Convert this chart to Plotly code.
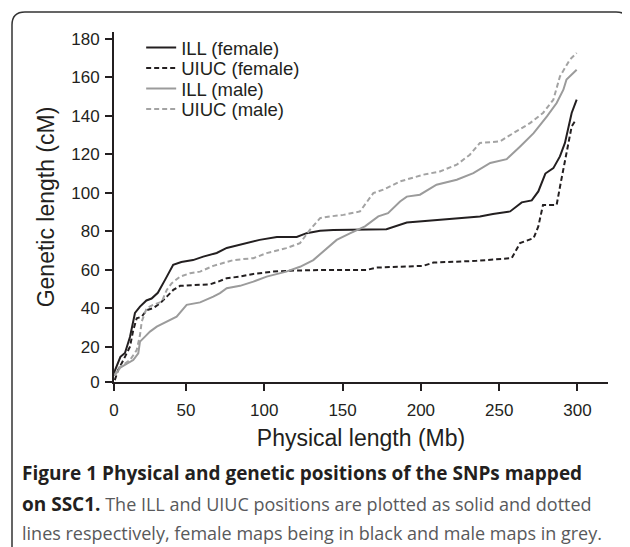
import plotly.graph_objects as go

# values (Mb vs cM)
ill_f_x = [4.2, 4.7, 8.1, 11, 14.2, 17.4, 20.6, 24.7, 28, 32, 36.6, 39.8, 41.8, 47, 54.5, 61, 69.6, 76,
           84.5, 97, 108, 120.7, 127, 135.6, 144, 178, 191, 208, 222.9, 237.7, 246, 257, 264.4, 270.8,
           275, 278, 279.5, 284.6, 288.8, 292, 294.1, 296.3, 299.5]
ill_f_y = [5, 7.8, 14.7, 16.7, 25, 37.5, 40.8, 44, 45, 48, 54.7, 60, 62.5, 64, 65, 66.8, 68.7, 71.3,
           73, 75.5, 77, 77, 79, 80.2, 80.7, 81, 84.5, 85.6, 86.8, 87.7, 89, 90.3, 95, 96,
           100.7, 106.8, 110, 112.8, 118.9, 125.9, 134.5, 141.5, 148.4]

uiuc_f_x = [4.5, 6.6, 10, 14.2, 16.3, 18.5, 21.7, 24.9, 29, 33.4, 37.7, 41.9, 46.2, 56.8, 65.3, 70.6,
            76, 84.5, 93, 105.7, 116.4, 142, 165.4, 171.8, 201.5, 208, 235.6, 258, 263.3, 272, 275,
            278, 286.7, 289.5, 291.5, 294, 296.3, 299]
uiuc_f_y = [2.6, 7.8, 13, 20, 28.6, 34.7, 35.6, 39, 40, 42.5, 46, 49.5, 51.6, 52, 52.4, 53.8,
            55.6, 56.4, 57.8, 59, 59.5, 59.9, 59.9, 61.1, 62, 63.7, 64.6, 66, 73.8, 76.4, 82.5,
            93.7, 93.7, 106, 114, 125.9, 134.5, 138]

ill_m_x = [4.5, 8, 12, 16.3, 19.5, 20.6, 23.8, 27, 31.3, 37.7, 44, 50.4, 59, 67.4, 71.7, 76, 84.5,
           93, 101.5, 114, 122.8, 131.3, 139.7, 146.2, 155, 164.3, 172.8, 179, 186.7, 191, 199.4,
           210, 222.9, 233.5, 244.3, 254.8, 263.4, 272, 280.5, 286.7, 291, 293, 299.5]
ill_m_y = [5, 9, 11, 13, 16.5, 22.6, 25.2, 27.8, 30.4, 33, 35.6, 41.7, 43, 46, 47.8, 50.4, 51.6,
           53.8, 56.4, 59, 61.5, 65, 71.2, 75.5, 79, 82.5, 87.7, 89.4, 95.5, 98, 99,
           104.2, 106.8, 110.2, 115.5, 117.5, 124.1, 131, 139.7, 146.7, 153.6, 158.9, 164]

uiuc_m_x = [4.2, 7, 14.2, 18.5, 20.6, 21.7, 24.9, 29, 34.5, 37.7, 40.9, 46.2, 52.6, 59, 67.4, 80.2,
            93, 101.5, 114, 122.8, 129.1, 135.6, 142, 150.5, 161.1, 169.6, 176, 186.7, 201.5, 212.2,
            222.9, 231.3, 237.7, 250.5, 259, 269.7, 278, 284.6, 288.8, 295.2, 299.5]
uiuc_m_y = [5, 9, 13, 18.2, 26, 33, 40, 41.7, 43.4, 49.5, 53, 56.4, 58.2, 59, 62, 65,
            66, 68.6, 71.2, 73.8, 80.7, 86.8, 87.7, 88.5, 90.3, 99.8, 101.6, 105.9, 109.4, 111.1,
            114.6, 119.8, 125.9, 126.7, 131, 136.2, 141.5, 148.4, 160.5, 169.3, 172.7]

x_ticks = [4.0, 50, 100, 150, 200, 250, 300]
x_labels = ["0", "50", "100", "150", "200", "250", "300"]
y_ticks = [1.6, 20, 40, 60, 80, 100, 120, 140, 160, 180]
y_labels = ["0", "20", "40", "60", "80", "100", "120", "140", "160", "180"]

BLACK = "#231f20"
GREY = "#9b9b9b"

# page has an 8px body margin, so the figure is laid out 8px up/left of the target pixels.
# plot area on screen is 114..608 px wide, 32..382 px tall
def px(x):
    return (x - 114) / 494

def py(y):
    return (382 - y) / 350

fig = go.Figure()
fig.add_trace(go.Scatter(x=ill_f_x, y=ill_f_y, mode="lines", name="ILL (female)",
                         line=dict(color=BLACK, width=2), legend="legend"))
fig.add_trace(go.Scatter(x=uiuc_f_x, y=uiuc_f_y, mode="lines", name="UIUC (female)",
                         line=dict(color=BLACK, width=2, dash="5px,3px"), legend="legend2"))
fig.add_trace(go.Scatter(x=ill_m_x, y=ill_m_y, mode="lines", name="ILL (male)",
                         line=dict(color=GREY, width=2), legend="legend3"))
fig.add_trace(go.Scatter(x=uiuc_m_x, y=uiuc_m_y, mode="lines", name="UIUC (male)",
                         line=dict(color="#a3a3a3", width=2, dash="5px,3px"), legend="legend4"))

# one legend per row so the rows sit as tightly as in the original
leg_rows = [48, 68.5, 89, 109.5]
legends = {}
for i, row in enumerate(leg_rows):
    key = "legend" if i == 0 else f"legend{i + 1}"
    legends[key] = dict(x=0.055, y=py(row), xanchor="left", yanchor="middle",
                        bgcolor="rgba(0,0,0,0)", font=dict(size=18.5), itemwidth=30)

# rounded frame round the whole figure, cut off on the right/bottom
r = 13
frame = (f"M {px(12)},{py(560)} L {px(12)},{py(12 + r)} Q {px(12)},{py(12)} {px(12 + r)},{py(12)} "
         f"L {px(629 - r)},{py(12)} Q {px(629)},{py(12)} {px(629)},{py(12 + r)} L {px(629)},{py(560)}")
fig.add_shape(type="path", path=frame, xref="paper", yref="paper",
              line=dict(color="#333333", width=1.5))

cap_font = dict(family="Open Sans", size=18, color="#58595b")
bold = "<b><span style='color:#231f20;font-size:19px'>{}</span></b>"
captions = [
    bold.format("Figure 1 Physical and genetic positions of the SNPs mapped"),
    bold.format("on SSC1.") + " The ILL and UIUC positions are plotted as solid and dotted",
    "lines respectively, female maps being in black and male maps in grey.",
]
for txt, ypos in zip(captions, [473, 504, 533]):
    fig.add_annotation(text=txt, xref="paper", yref="paper", x=px(20), y=py(ypos),
                       xanchor="left", yanchor="middle", showarrow=False, font=cap_font)

fig.update_layout(
    width=622, height=539,
    margin=dict(l=106, r=22, t=24, b=165),
    plot_bgcolor="white", paper_bgcolor="white",
    font=dict(family="Liberation Sans, Arial", color=BLACK),
    showlegend=True,
    **legends,
    xaxis=dict(range=[4.0, 319.5], tickvals=x_ticks, ticktext=x_labels,
               showline=True, linecolor=BLACK, linewidth=2, ticks="outside", ticklen=7,
               tickwidth=2, tickcolor=BLACK, showgrid=False, zeroline=False,
               tickfont=dict(size=17), ticklabelstandoff=5,
               title=dict(text="Physical length (Mb)", font=dict(size=23), standoff=10)),
    yaxis=dict(range=[1.6, 183.6], tickvals=y_ticks, ticktext=y_labels,
               showline=True, linecolor=BLACK, linewidth=2, ticks="outside", ticklen=7,
               tickwidth=2, tickcolor=BLACK, showgrid=False, zeroline=False,
               tickfont=dict(size=17), ticklabelstandoff=2,
               title=dict(text="Genetic length (cM)", font=dict(size=23), standoff=10)),
)

fig.write_html("out.html")
